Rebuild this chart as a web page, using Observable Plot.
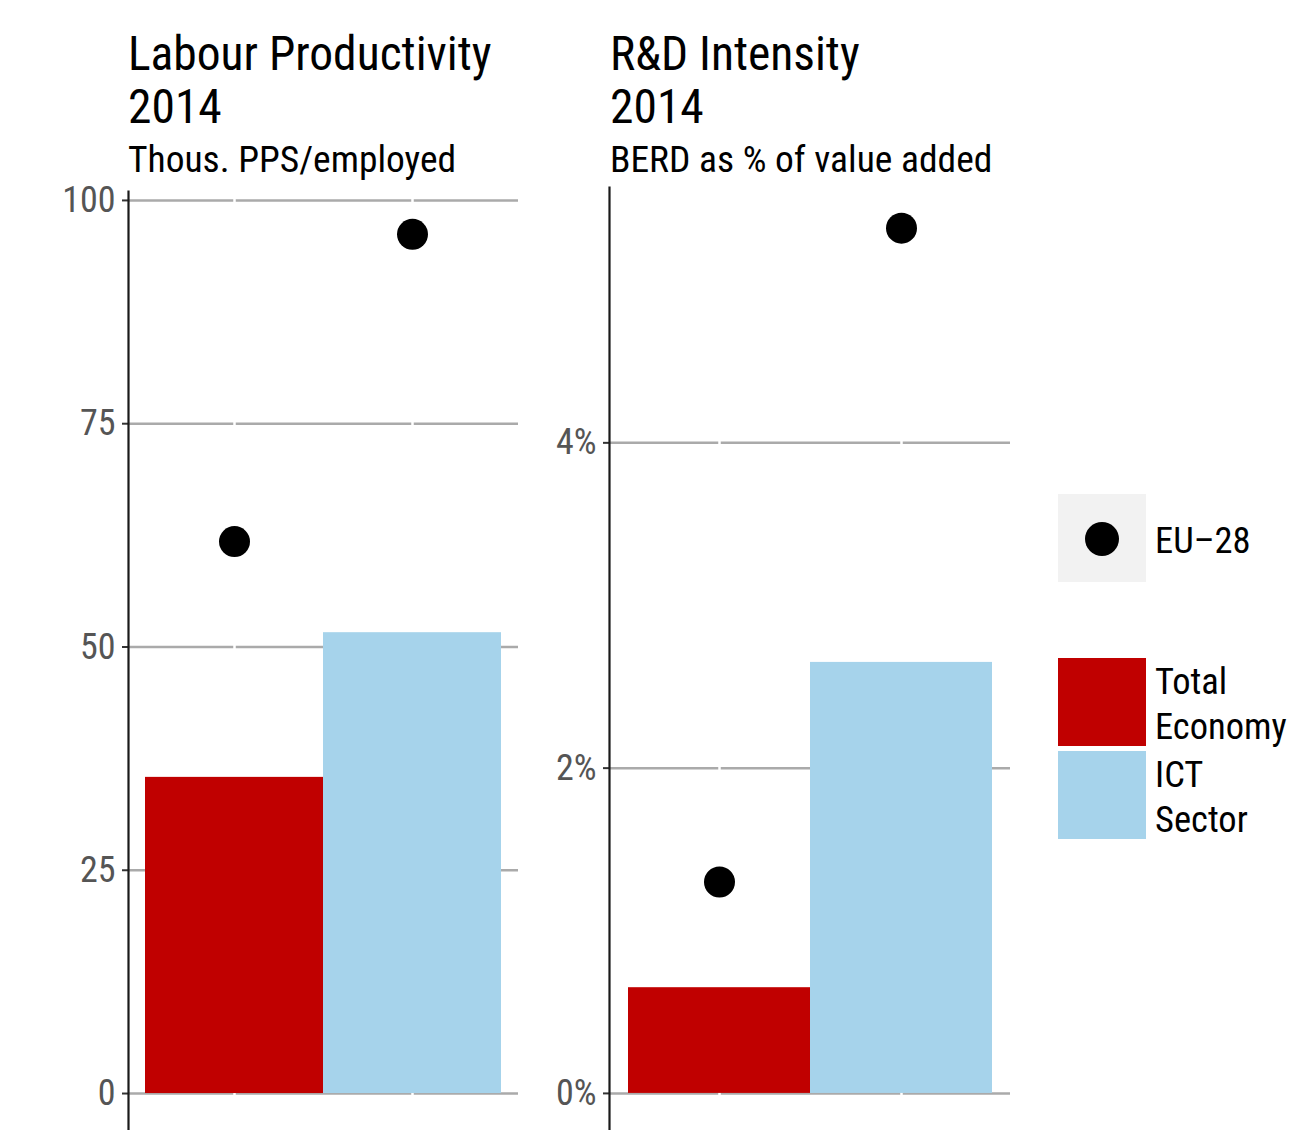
<!DOCTYPE html>
<html><head><meta charset="utf-8">
<script src="https://cdn.jsdelivr.net/npm/d3@7"></script>
<script src="https://cdn.jsdelivr.net/npm/@observablehq/plot@0.6"></script>
<style>
body{margin:0;background:#fff;width:1293px;height:1130px;overflow:hidden;position:relative;
 font-family:"Liberation Sans Narrow","Roboto Condensed","DejaVu Sans Condensed",sans-serif;}
.t{position:absolute;color:#000;white-space:nowrap;}
.title{font-size:47.5px;line-height:53px;}
.sub{font-size:37.5px;line-height:40px;}
.panel{position:absolute;top:185px;}
.lab{position:absolute;font-size:36.5px;line-height:45px;color:#000;white-space:nowrap;}
</style></head>
<body>
<div id="root"></div>
<script>
// ---- data ----
const sectors = ["Total Economy", "ICT Sector"];
const sectorColors = ["#c00000", "#a6d3eb"];
const benchmarkLabel = "EU–28";
const productivityValues = [35.4, 51.6];
const productivityEU = [61.8, 96.2];
const productivityTicks = [0, 25, 50, 75, 100];
const rdValues = [0.65, 2.65];
const rdEU = [1.30, 5.32];
const rdTicks = [0, 2, 4];
const panelTitles = [["Labour Productivity", "2014", "Thous. PPS/employed"], ["R&D Intensity", "2014", "BERD as % of value added"]];

const FONT = '"Liberation Sans Narrow","Roboto Condensed","DejaVu Sans Condensed",sans-serif';

function panel(values, eu, ticks, fmt, opts) {
  const data = sectors.map((s, i) => ({sector: s, value: values[i], eu: eu[i]}));
  return Plot.plot({
    width: opts.width, height: 945,
    marginLeft: opts.marginLeft, marginRight: 0, marginTop: opts.marginTop, marginBottom: 0,
    style: {fontFamily: FONT, background: "transparent", overflow: "visible"},
    x: {type: "band", domain: sectors, paddingInner: 0, paddingOuter: opts.pad, axis: null},
    y: {domain: opts.domain, axis: null},
    color: {domain: sectors, range: sectorColors},
    marks: [
      Plot.gridY(ticks, {stroke: "#aaaaaa", strokeOpacity: 1, strokeWidth: 2.5}),
      Plot.ruleX(sectors, {x: d => d, stroke: "white", strokeWidth: 2.5}),
      Plot.barY(data, {x: "sector", y: "value", fill: "sector", inset: 0}),
      Plot.dot(data, {x: "sector", y: "eu", r: 15.5, fill: "black", stroke: null}),
      Plot.axisY(ticks, {tickSize: 6, tickPadding: 7, fontSize: 36, tickFormat: fmt, color: "#555555", stroke: "#333", strokeWidth: 2}),
      Plot.frame({anchor: "left", stroke: "#1a1a1a", strokeWidth: 2.2})
    ]
  });
}

const root = document.getElementById("root");
const lefts = [128, 610];
panelTitles.forEach((t, i) => {
  const a = document.createElement("div");
  a.className = "t title"; a.style.left = lefts[i] + "px"; a.style.top = "28px";
  a.innerHTML = t[0] + "<br>" + t[1];
  root.appendChild(a);
  const b = document.createElement("div");
  b.className = "t sub"; b.style.left = lefts[i] + "px"; b.style.top = "139px";
  b.textContent = t[2];
  root.appendChild(b);
});

const p1 = panel(productivityValues, productivityEU, productivityTicks, d => String(d),
  {width: 518, marginLeft: 128, marginTop: 6, domain: [-4.14, 101.0], pad: 0.0924});
const d1 = document.createElement("div"); d1.className = "panel"; d1.style.left = "0px"; d1.appendChild(p1); root.appendChild(d1);

const p2 = panel(rdValues, rdEU, rdTicks, d => d + "%",
  {width: 490, marginLeft: 89, marginTop: 2, domain: [-0.228, 5.57], pad: 0.098});
const d2 = document.createElement("div"); d2.className = "panel"; d2.style.left = "520px"; d2.appendChild(p2); root.appendChild(d2);

// ---- legend ----
const lg = d3.select(root);
const dotSvg = lg.append("svg").attr("width", 88).attr("height", 88)
  .style("position", "absolute").style("left", "1058px").style("top", "494px");
dotSvg.append("rect").attr("width", 88).attr("height", 88).attr("fill", "#f2f2f2");
dotSvg.append("circle").attr("cx", 44).attr("cy", 45).attr("r", 17).attr("fill", "black");
lg.append("div").attr("class", "lab").style("left", "1155px").style("top", "518px").text(benchmarkLabel);

sectors.forEach((s, i) => {
  const top = 658 + i * 93;
  lg.append("div").style("position", "absolute").style("left", "1058px").style("top", top + "px")
    .style("width", "88px").style("height", "88px").style("background", sectorColors[i]);
  const words = s.split(" ");
  lg.append("div").attr("class", "lab").style("left", "1155px").style("top", (top + 1) + "px")
    .html(words.join("<br>"));
});
</script>
</body></html>
